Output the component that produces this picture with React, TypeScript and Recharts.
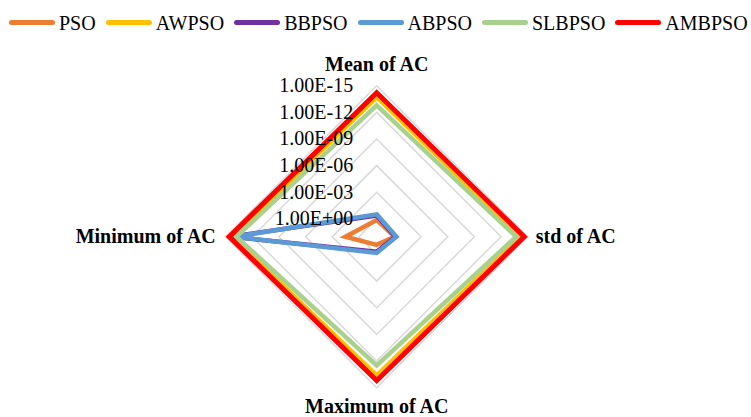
import { RadarChart, Radar, PolarGrid, PolarAngleAxis, PolarRadiusAxis } from "recharts"

// axes of the radar, clockwise from the top
const AXES = ["Mean of AC", "std of AC", "Maximum of AC", "Minimum of AC"]

// AC values (same order as AXES)
const PSO = [1.3, 1.0, 12, 0.03]
const AWPSO = [2.0e-14, 6.3e-15, 2.5e-14, 5.0e-15]
const BBPSO = [0.4, 0.8, 2.0, 3.2e-15]
const ABPSO = [0.3, 0.6, 1.5, 1.0e-14]
const SLBPSO = [1.6e-13, 2.0e-14, 3.2e-13, 1.6e-14]
const AMBPSO = [6.3e-15, 2.5e-15, 6.3e-15, 2.5e-15]

// radial axis is log, reversed (smaller value = further out) -> plot -log10(v)
const RADIUS_TICKS = [0, 3, 6, 9, 12, 15]
const RADIUS_DOMAIN = [-1.83, 15]

const SERIES = [
  { key: "PSO", vals: PSO, color: "#ed7d31" },
  { key: "AWPSO", vals: AWPSO, color: "#ffc000" },
  { key: "BBPSO", vals: BBPSO, color: "#7030a0" },
  { key: "ABPSO", vals: ABPSO, color: "#5b9bd5" },
  { key: "SLBPSO", vals: SLBPSO, color: "#a9d18e" },
  { key: "AMBPSO", vals: AMBPSO, color: "#ff0000" },
]

const data = AXES.map((a, i) => {
  const row: Record<string, any> = { axis: a }
  SERIES.forEach((s) => {
    row[s.key] = -Math.log10(s.vals[i])
  })
  return row
})

const FONT = '"Liberation Serif", "Times New Roman", serif'
const CX = 376.7
const CY = 236.7

const fmtExp = (e: number) => {
  const x = -Math.round(e)
  const sign = x < 0 ? "-" : "+"
  return "1.00E" + sign + String(Math.abs(x)).padStart(2, "0")
}

const RadiusTick = ({ x, y, payload }: any) => (
  <text x={x - 23.5} y={y + 6.5} textAnchor="end" fontSize={20} fontFamily={FONT} fill="#000">
    {fmtExp(payload.value)}
  </text>
)

// angle ticks sit 8px outside the outer ring
const AngleTick = ({ x, y, payload }: any) => {
  let tx = x
  let ty = y
  let anchor = "middle"
  if (y < CY - 5) {
    ty = y - 7
  } else if (y > CY + 5) {
    ty = y + 17
  } else if (x > CX) {
    tx = x
    ty = y + 6.5
    anchor = "start"
  } else {
    tx = x - 2
    ty = y + 6.5
    anchor = "end"
  }
  return (
    <text x={tx} y={ty} textAnchor={anchor} fontSize={20} fontWeight="bold" fontFamily={FONT} fill="#000">
      {payload.value}
    </text>
  )
}

function LegendBar() {
  return (
    <div
      style={{
        position: "absolute",
        left: 8,
        top: 12.7,
        display: "flex",
        alignItems: "center",
        fontFamily: FONT,
        fontSize: 20,
        lineHeight: "20px",
        color: "#000",
        whiteSpace: "nowrap",
      }}
    >
      {SERIES.map((s) => (
        <div key={s.key} style={{ display: "flex", alignItems: "center", marginRight: 9 }}>
          <span style={{ display: "inline-block", width: 46, height: 5, borderRadius: 3, background: s.color, margin: "0 4px 0 1px" }} />
          <span>{s.key}</span>
        </div>
      ))}
    </div>
  )
}

export default function App() {
  return (
    <div style={{ position: "absolute", left: 0, top: 0, width: 751, height: 417, background: "#fff" }}>
      <RadarChart width={751} height={417} data={data} cx={CX} cy={CY} outerRadius={151} margin={{ top: 0, right: 0, bottom: 0, left: 0 }}>
        <PolarGrid gridType="polygon" radialLines={false} stroke="#d9d9d9" strokeWidth={1.5} />
        <PolarAngleAxis dataKey="axis" tick={<AngleTick />} axisLine={false} tickLine={false} />
        <PolarRadiusAxis
          angle={90}
          type="number"
          domain={RADIUS_DOMAIN}
          ticks={RADIUS_TICKS}
          tick={<RadiusTick />}
          axisLine={false}
          tickLine={false}
        />
        {SERIES.map((s) => (
          <Radar
            key={s.key}
            dataKey={s.key}
            stroke={s.color}
            strokeWidth={s.key === "AMBPSO" ? 5 : 4.5}
            fill="none"
            fillOpacity={0}
            dot={false}
            isAnimationActive={false}
          />
        ))}
      </RadarChart>
      <LegendBar />
    </div>
  )
}
